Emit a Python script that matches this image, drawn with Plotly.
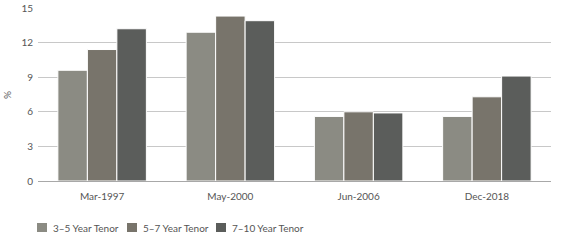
import plotly.graph_objects as go

categories = ["Mar-1997", "May-2000", "Jun-2006", "Dec-2018"]
series_names = ["3–5 Year Tenor", "5–7 Year Tenor", "7–10 Year Tenor"]
tenor_3_5 = [9.6, 12.9, 5.6, 5.6]
tenor_5_7 = [11.4, 14.3, 6.0, 7.3]
tenor_7_10 = [13.2, 13.9, 5.9, 9.1]
colors = ["#8b8b83", "#78746b", "#5b5d5b"]
y_ticks = [0, 3, 6, 9, 12, 15]

FONT = "Lato, Open Sans, sans-serif"
L, R, T, B = 38, 29, 8, 68
W, H = 580, 249
pw, ph = W - L - R, H - T - B

fig = go.Figure()
for name, vals, c in zip(series_names, [tenor_3_5, tenor_5_7, tenor_7_10], colors):
    fig.add_trace(go.Bar(x=categories, y=vals, name=name, showlegend=False,
                         marker=dict(color=c, line=dict(color="white", width=1))))

# manual legend (layout only)
legend_sq_x = [37, 127, 216]
for name, c, sx in zip(series_names, colors, legend_sq_x):
    x0 = (sx - L) / pw
    x1 = (sx + 10 - L) / pw
    y0 = (T + ph - 232) / ph
    y1 = (T + ph - 223) / ph
    fig.add_shape(type="rect", xref="paper", yref="paper", x0=x0, x1=x1, y0=y0, y1=y1,
                  fillcolor=c, line=dict(width=0))
    fig.add_annotation(xref="paper", yref="paper", x=(sx + 14 - L) / pw,
                       y=(T + ph - 227.5) / ph, xanchor="left", yanchor="middle",
                       text=name, showarrow=False,
                       font=dict(family=FONT, size=10, color="#555555"))

fig.add_annotation(xref="paper", yref="paper", x=(7 - L) / pw, y=(T + ph - 95) / ph,
                   text="%", textangle=-90, showarrow=False, xanchor="center", yanchor="middle",
                   font=dict(family=FONT, size=10, color="#555555"))

fig.update_layout(
    barmode="group", bargap=0.31, bargroupgap=0.0,
    width=W, height=H,
    margin=dict(l=L, r=R, t=T, b=B, autoexpand=False),
    paper_bgcolor="white", plot_bgcolor="white",
    font=dict(family=FONT, size=10, color="#555555"),
    showlegend=False,
    xaxis=dict(showgrid=False, showline=True, linecolor="#a8a8a8", linewidth=1,
               ticks="", ticklabelstandoff=6, tickfont=dict(size=10, color="#555555"),
               automargin=False),
    yaxis=dict(range=[0, 15], tickvals=y_ticks, showgrid=True, gridcolor="#c8c8c8",
               gridwidth=1, zeroline=False, ticks="", ticklabelstandoff=4,
               tickfont=dict(size=10, color="#555555"), automargin=False),
)
fig.write_html("out.html")
